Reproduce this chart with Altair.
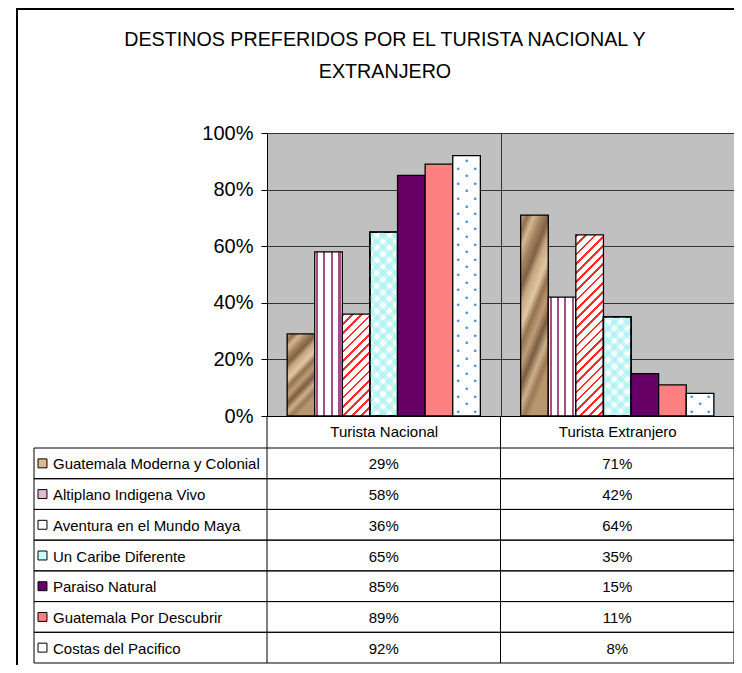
import math
import altair as alt
import pandas as pd

# ---------------- data ----------------
series = [
    "Guatemala Moderna y Colonial",
    "Altiplano Indigena Vivo",
    "Aventura en el Mundo Maya",
    "Un Caribe Diferente",
    "Paraiso Natural",
    "Guatemala Por Descubrir",
    "Costas del Pacifico",
]
grupos = ["Turista Nacional", "Turista Extranjero"]
nacional = [0.29, 0.58, 0.36, 0.65, 0.85, 0.89, 0.92]
extranjero = [0.71, 0.42, 0.64, 0.35, 0.15, 0.11, 0.08]
y_ticks = [0, 0.2, 0.4, 0.6, 0.8, 1.0]
title_lines = ["DESTINOS PREFERIDOS POR EL TURISTA NACIONAL Y", "EXTRANJERO"]
swatch_colors = ["#DDB88C", "#E2BCD4", "#FFFFFF", "#CCFFFF", "#660066", "#FF8080", "#FFFFFF"]

rows = []
for i, s in enumerate(series):
    rows.append({"serie": s, "grupo": grupos[0], "valor": nacional[i]})
    rows.append({"serie": s, "grupo": grupos[1], "valor": extranjero[i]})
df = pd.DataFrame(rows)
df_series = pd.DataFrame({"serie": series})
df_groups = pd.DataFrame({"grupo": grupos})
df_one = pd.DataFrame({"k": [0]})

# ---------------- layout / style ----------------
FONT = "Liberation Sans"
PLOT_W, PLOT_H = 467, 283
PAD_OUT = 0.73
BAR_W = PLOT_W / 2 / (7 + 2 * PAD_OUT)
GRID = "#333333"

x_scale = alt.Scale(domain=grupos, paddingInner=0, paddingOuter=0)
x_axis = alt.Axis(title=None, labelFont=FONT, labelFontSize=15, labelColor="black",
                  labelAngle=0, labelBaseline="middle", labelPadding=15, ticks=False,
                  domain=True, domainColor="black", grid=True, gridColor=GRID,
                  tickBand="extent")


def X(**kw):
    return alt.X("grupo:N", scale=x_scale, axis=x_axis, **kw)


xoff = alt.XOffset("serie:N", scale=alt.Scale(domain=series, paddingInner=0, paddingOuter=PAD_OUT))
y_axis = alt.Axis(title=None, values=y_ticks, format=".0%", labelFont=FONT, labelFontSize=20,
                  labelColor="black", labelPadding=8, tickSize=6, tickColor="black",
                  domainColor="black", grid=True, gridColor=GRID)
y_scale = alt.Scale(domain=[0, 1], nice=False)


def Yq(field="valor:Q"):
    return alt.Y(field, scale=y_scale, axis=y_axis)


def stops_to_grad(stops, x1, y1, x2, y2):
    return {"gradient": "linear", "x1": x1, "y1": y1, "x2": x2, "y2": y2,
            "stops": [{"offset": round(o, 5), "color": c} for o, c in stops]}


def diag_gradient(h, w, period, duty, c_on, c_off, direction):
    r = w / h
    k = (1 + r) / (1 + r * r)
    if direction == "/":
        x1, y1, x2, y2 = 0, 0, k * r, k
    else:
        x1, y1, x2, y2 = 0, 1, k * r, 1 - k
    n = (w + h) / (math.sqrt(2) * period)
    stops = []
    i = 0
    while i / n < 1:
        a = i / n
        b = min((i + duty) / n, 1)
        c = min((i + 1) / n, 1)
        stops += [(a, c_on), (b, c_on), (b, c_off), (c, c_off)]
        i += 1
    return stops_to_grad(stops, x1, y1, x2, y2)


stone_stops = [(0, "#C9A985"), (0.08, "#8E6E4E"), (0.15, "#D4B894"), (0.24, "#A58360"),
               (0.33, "#7F6145"), (0.4, "#C7A781"), (0.5, "#E0C7A5"), (0.58, "#94724F"),
               (0.67, "#BE9C76"), (0.76, "#7A5C40"), (0.85, "#CDB08B"), (0.93, "#9A7855"),
               (1, "#B8966F")]
stone = stops_to_grad(stone_stops, 0, 0, 0.35, 1)

stripe_pos = [0.09, 0.34, 0.62, 0.9]
st = []
prev = 0
for p in stripe_pos:
    a, b = p - 0.04, p + 0.04
    st += [(prev, "#FFFFFF"), (a, "#FFFFFF"), (a, "#A54D87"), (b, "#A54D87"), (b, "#FFFFFF")]
    prev = b
st.append((1, "#FFFFFF"))
stripes = stops_to_grad(st, 0, 0, 1, 0)

base = alt.Chart(df)
val_of = {(s, g): v for s, g, v in zip(df.serie, df.grupo, df.valor)}


def bars(filter_expr, **mark):
    props = dict(stroke="black", strokeWidth=1.3)
    props.update(mark)
    return base.transform_filter(filter_expr).mark_bar(**props).encode(
        x=X(), xOffset=xoff, y=Yq())


bar_layers = []
# Guatemala Moderna y Colonial: stone texture
bar_layers.append(bars(alt.datum.serie == series[0], fill=stone))
# Altiplano: vertical stripes
bar_layers.append(bars(alt.datum.serie == series[1], fill=stripes))
# Aventura: red diagonal brick-like lines, per bar
for g in grupos:
    h = val_of[(series[2], g)] * PLOT_H
    grad = diag_gradient(h, BAR_W, 6.5, 0.3, "#FF2A2A", "#FFFFFF", "/")
    bar_layers.append(bars((alt.datum.serie == series[2]) & (alt.datum.grupo == g), fill=grad))
# Un Caribe: crossed cyan lattice
bar_layers.append(bars(alt.datum.serie == series[3], fill="#FFFFFF"))
for g in grupos:
    h = val_of[(series[3], g)] * PLOT_H
    for d in ["/", "\\"]:
        grad = diag_gradient(h, BAR_W, 9, 0.5, "rgba(165,240,240,0.6)", "rgba(255,255,255,0)", d)
        bar_layers.append(bars((alt.datum.serie == series[3]) & (alt.datum.grupo == g), fill=grad))
# solid ones
bar_layers.append(bars(alt.datum.serie == series[4], fill="#660066"))
bar_layers.append(bars(alt.datum.serie == series[5], fill="#FF8080"))
bar_layers.append(bars(alt.datum.serie == series[6], fill="#FFFFFF"))

# blue dot pattern on Costas del Pacifico
step = 7.6 / PLOT_H
dots_base = (base.transform_filter(alt.datum.serie == series[6])
             .transform_calculate(seq=f"sequence({step * 0.55}, datum.valor - {step * 0.3}, {step})")
             .transform_flatten(["seq"])
             .transform_calculate(k=f"floor(datum.seq / {step})"))
dot_layers = []
for par, dxs in [(0, [-8.5, 8.5]), (1, [0])]:
    for dx in dxs:
        dot_layers.append(
            dots_base.transform_filter(f"datum.k % 2 == {par}")
            .mark_text(text="\u2022", fontSize=9, color="#3D8EE8", dx=dx, baseline="middle", font=FONT)
            .encode(x=X(), xOffset=xoff, y=Yq("seq:Q")))

bars_group = alt.layer(*bar_layers, *dot_layers)

# ---------------- table ----------------
row_scale = alt.Scale(domain=series, range=[315, 530], paddingInner=0, paddingOuter=0)


def YR(**kw):
    return alt.Y("serie:N", scale=row_scale, axis=None, **kw)


frame = alt.Chart(df_one).mark_rect(fill="white", fillOpacity=0, stroke="black", strokeWidth=2).encode(
    x=alt.value(-250), x2=alt.value(560), y=alt.value(-124), y2=alt.value(620))

title = alt.Chart(df_one).mark_text(text=title_lines, align="center", baseline="alphabetic",
                                    font=FONT, fontSize=19.7, lineHeight=32, color="black").encode(
    x=alt.value(118), y=alt.value(-87))

values = alt.Chart(df).mark_text(font=FONT, fontSize=15, color="black", baseline="middle", dy=1).encode(
    x=X(), y=YR(), text=alt.Text("valor:Q", format=".0%"))

labels = alt.Chart(df_series).mark_text(align="left", baseline="middle", font=FONT, fontSize=15,
                                        color="black", dy=1).encode(
    x=alt.value(-214), y=YR(), text="serie:N")

swatches = alt.Chart(df_series).mark_square(size=80, stroke="black", strokeWidth=1, opacity=1).encode(
    x=alt.value(-224.5), y=YR(),
    fill=alt.Fill("serie:N", scale=alt.Scale(domain=series, range=swatch_colors), legend=None))

hlines_top = alt.Chart(df_series).mark_rule(color="black", strokeWidth=1).encode(
    y=YR(bandPosition=0), x=alt.value(-233), x2=alt.value(467))
hlines_bot = alt.Chart(df_series).mark_rule(color="black", strokeWidth=1).encode(
    y=YR(bandPosition=1), x=alt.value(-233), x2=alt.value(467))
vlines_a = alt.Chart(df_groups).mark_rule(color="black", strokeWidth=1).encode(
    x=X(bandPosition=0), y=alt.value(283), y2=alt.value(530))
vlines_b = alt.Chart(df_groups).mark_rule(color="black", strokeWidth=1).encode(
    x=X(bandPosition=1), y=alt.value(283), y2=alt.value(530))
left_border = alt.Chart(df_one).mark_rule(color="black", strokeWidth=1).encode(
    x=alt.value(-233), y=alt.value(315), y2=alt.value(530))

table_group = alt.layer(frame, title, hlines_top, hlines_bot, vlines_a, vlines_b, left_border,
                        swatches, labels, values)

chart = (
    alt.layer(bars_group, table_group)
    .resolve_scale(y="independent")
    .properties(width=PLOT_W, height=PLOT_H,
                autosize=alt.AutoSizeParams(type="none"),
                padding={"left": 259, "top": 125, "right": 0, "bottom": 249})
    .configure(background="white")
    .configure_view(fill="#C0C0C0", stroke=GRID, strokeWidth=1)
)

chart.save("out.html", embed_options={"renderer": "svg", "actions": False})
